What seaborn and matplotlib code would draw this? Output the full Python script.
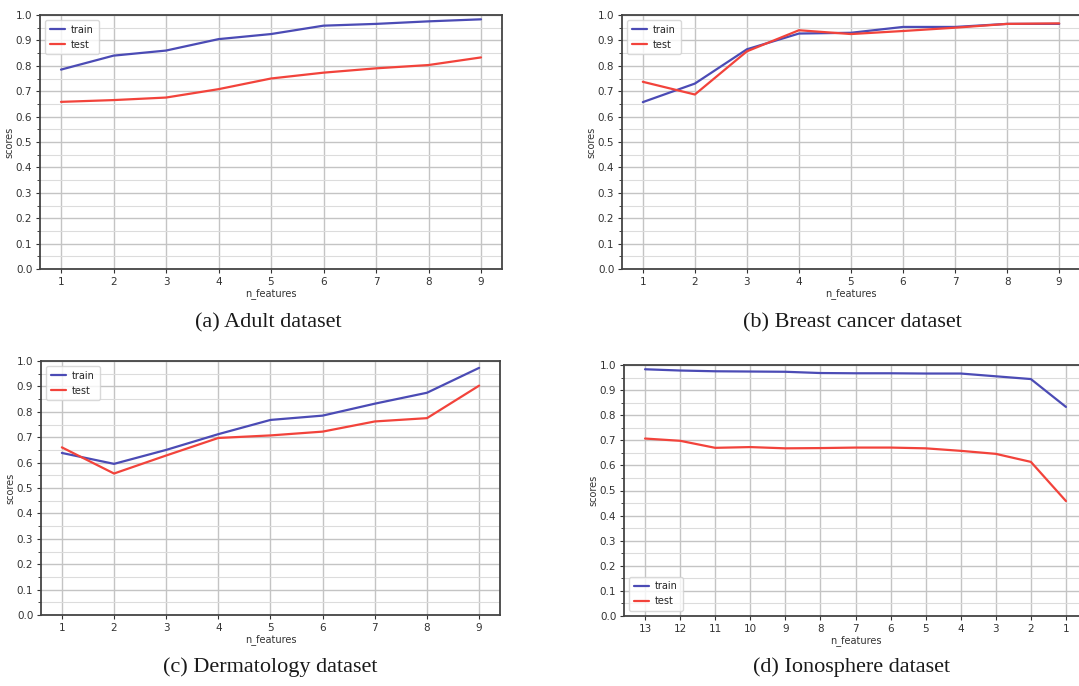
import numpy as np
import pandas as pd
import seaborn as sns
import matplotlib.pyplot as plt
from matplotlib.ticker import MultipleLocator

feat_9 = [1, 2, 3, 4, 5, 6, 7, 8, 9]
feat_13 = [13, 12, 11, 10, 9, 8, 7, 6, 5, 4, 3, 2, 1]

adult_train = [0.785, 0.840, 0.860, 0.905, 0.925, 0.958, 0.965, 0.975, 0.983]
adult_test = [0.658, 0.665, 0.675, 0.708, 0.750, 0.773, 0.790, 0.803, 0.833]

breast_train = [0.657, 0.730, 0.865, 0.927, 0.930, 0.953, 0.953, 0.965, 0.965]
breast_test = [0.737, 0.687, 0.857, 0.940, 0.925, 0.937, 0.950, 0.965, 0.967]

derm_train = [0.638, 0.595, 0.650, 0.712, 0.768, 0.785, 0.832, 0.875, 0.973]
derm_test = [0.660, 0.557, 0.628, 0.697, 0.707, 0.722, 0.762, 0.775, 0.903]

iono_train = [0.983, 0.978, 0.975, 0.974, 0.973, 0.968, 0.967, 0.967, 0.966, 0.966, 0.955, 0.944, 0.833]
iono_test = [0.707, 0.698, 0.670, 0.673, 0.668, 0.669, 0.671, 0.671, 0.668, 0.658, 0.646, 0.614, 0.458]

captions = ['(a) Adult dataset', '(b) Breast cancer dataset',
            '(c) Dermatology dataset', '(d) Ionosphere dataset']

train_color = '#4b4bb5'
test_color = '#f2433b'

sns.set_style('white')
plt.rcParams['font.family'] = ['DejaVu Sans']

W, H = 1079, 686
fig = plt.figure(figsize=(W / 100, H / 100), dpi=100)


def make_ax(left, top, right, bottom):
    return fig.add_axes([left / W, 1 - bottom / H, (right - left) / W, (bottom - top) / H])


def draw_panel(ax, x, train, test, legend_loc, reverse=False):
    df = pd.DataFrame({'n_features': x + x,
                       'scores': train + test,
                       'set': ['train'] * len(x) + ['test'] * len(x)})
    sns.lineplot(data=df, x='n_features', y='scores', hue='set',
                 palette={'train': train_color, 'test': test_color},
                 linewidth=1.6, ax=ax, sort=False)
    ax.set_ylim(0, 1.0)
    lo, hi = min(x), max(x)
    pad = (hi - lo) * 0.05
    if reverse:
        ax.set_xlim(hi + pad, lo - pad)
    else:
        ax.set_xlim(lo - pad, hi + pad)
    ax.set_xticks(x)
    ax.yaxis.set_major_locator(MultipleLocator(0.1))
    ax.yaxis.set_minor_locator(MultipleLocator(0.05))
    ax.grid(True, which='major', color='#c4c4c4', linewidth=1.0)
    ax.grid(True, which='minor', axis='y', color='#dcdcdc', linewidth=0.8)
    ax.set_axisbelow(True)
    ax.tick_params(axis='both', which='major', labelsize=7.5, length=3, width=0.8,
                   colors='#333333', direction='out', left=True, bottom=True, pad=2.5)
    ax.tick_params(axis='y', which='minor', length=2, width=0.6, left=True)
    for s in ax.spines.values():
        s.set_color('#444444')
        s.set_linewidth(1.3)
    ax.set_xlabel('n_features', fontsize=7, color='#333333', labelpad=1)
    ax.set_ylabel('scores', fontsize=7, color='#333333', labelpad=1)
    ax.legend(loc=legend_loc, fontsize=7, frameon=True, edgecolor='#d0d0d0',
              handlelength=1.6, handletextpad=0.6, borderpad=0.5, labelspacing=0.5)


ax_a = make_ax(40, 15, 502, 269)
draw_panel(ax_a, feat_9, adult_train, adult_test, 'upper left')
ax_b = make_ax(622, 15, 1080, 269)
draw_panel(ax_b, feat_9, breast_train, breast_test, 'upper left')
ax_c = make_ax(41, 361, 500, 615)
draw_panel(ax_c, feat_9, derm_train, derm_test, 'upper left')
ax_d = make_ax(624, 365, 1087, 616)
draw_panel(ax_d, feat_13, iono_train, iono_test, 'lower left', reverse=True)

cap_pos = [(268, 323), (852, 323), (270, 667), (852, 667)]
for (cx, cy), txt in zip(cap_pos, captions):
    fig.text(cx / W, 1 - cy / H, txt, ha='center', va='center',
             fontsize=16, family='Liberation Serif', color='#1a1a1a')

fig.savefig('out.png', dpi=100)
